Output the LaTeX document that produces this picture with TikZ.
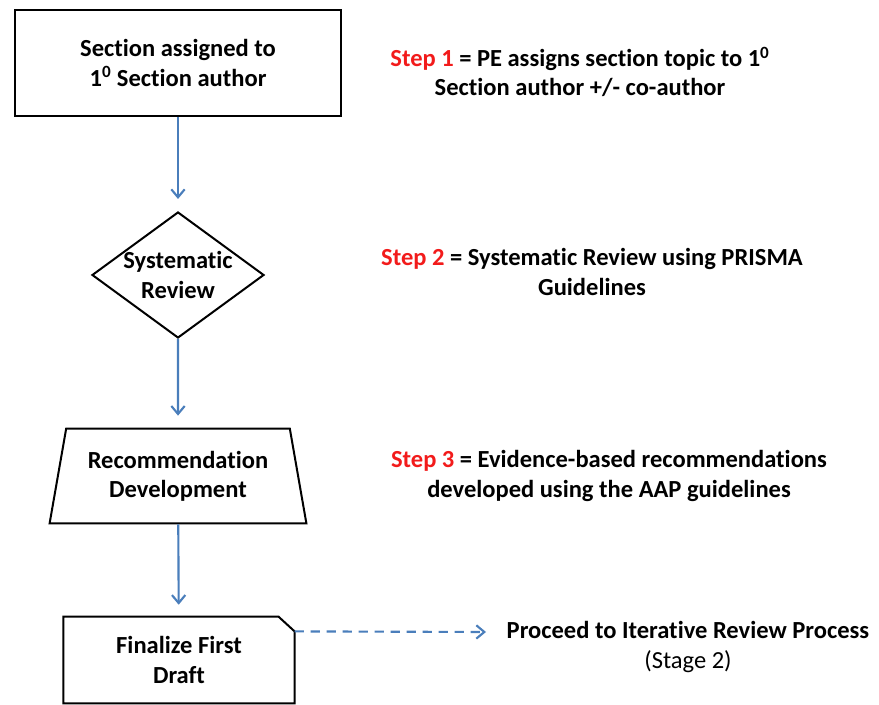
\documentclass[tikz,border=0pt]{standalone}
\usepackage{fontspec}
\setmainfont{Carlito}[Ligatures=NoCommon,RawFeature=-calt]
\usetikzlibrary{shapes.geometric,arrows.meta}
\definecolor{flowblue}{HTML}{4A7EBB}
\definecolor{stepred}{HTML}{F21B1B}
\newcommand{\stepno}[1]{\textcolor{stepred}{Step #1}}

\begin{document}
\begin{tikzpicture}[x=0.75pt,y=-0.75pt,
    txt/.style={font=\fontsize{18.4}{22}\selectfont\bfseries,align=center},
    shp/.style={draw,line width=1.5pt,txt},
    flow/.style={flowblue,line width=1.6pt,-{Straight Barb[length=6pt,width=10pt]},shorten >=9pt}]
  \useasboundingbox (0,0) rectangle (879,705);

  \node[shp,minimum width=244pt,minimum height=79.5pt] (sec) at (178,63)
    {Section assigned to\\1\textsuperscript{0} Section author};
  \node[shp,diamond,minimum width=129pt,minimum height=94.5pt,inner sep=0pt,
    label={[txt]center:Systematic\\Review}] (rev) at (178,275) {};
  \node[shp,trapezium,trapezium angle=76.7,trapezium stretches=true,
    minimum width=193pt,minimum height=71pt] (rec) at (178,476)
    {Recommendation\\Development};
  \node[txt,minimum width=173pt,minimum height=64.5pt] (fin) at (179,660)
    {Finalize First\\Draft};
  \draw[line width=1.5pt] (fin.south west) -- (fin.north west) -- ([xshift=-12pt]fin.north east)
    -- ([yshift=-11pt]fin.north east) -- (fin.south east) -- cycle;

  \node[txt] (s1) at (580,72) {\stepno{1} = PE assigns section topic to 1\textsuperscript{0}\\Section author +/- co-author};
  \node[txt] (s2) at (592,272) {\stepno{2} = Systematic Review using PRISMA\\Guidelines};
  \node[txt] (s3) at (609,476) {\stepno{3} = Evidence-based recommendations\\developed using the AAP guidelines};
  \node[txt] (next) at (688,647) {Proceed to Iterative Review Process\\{\mdseries (Stage 2)}};
  \coordinate (pend) at (486,632);

  \draw[flow] (sec) -- (rev);
  \draw[flow] (rev) -- (rec);
  \draw[flow] (rec) -- (fin);
  \draw[flow,dash pattern=on 7pt off 5pt,shorten >=0pt] ([yshift=-11pt]fin.north east) -- (pend);
\end{tikzpicture}
\end{document}
